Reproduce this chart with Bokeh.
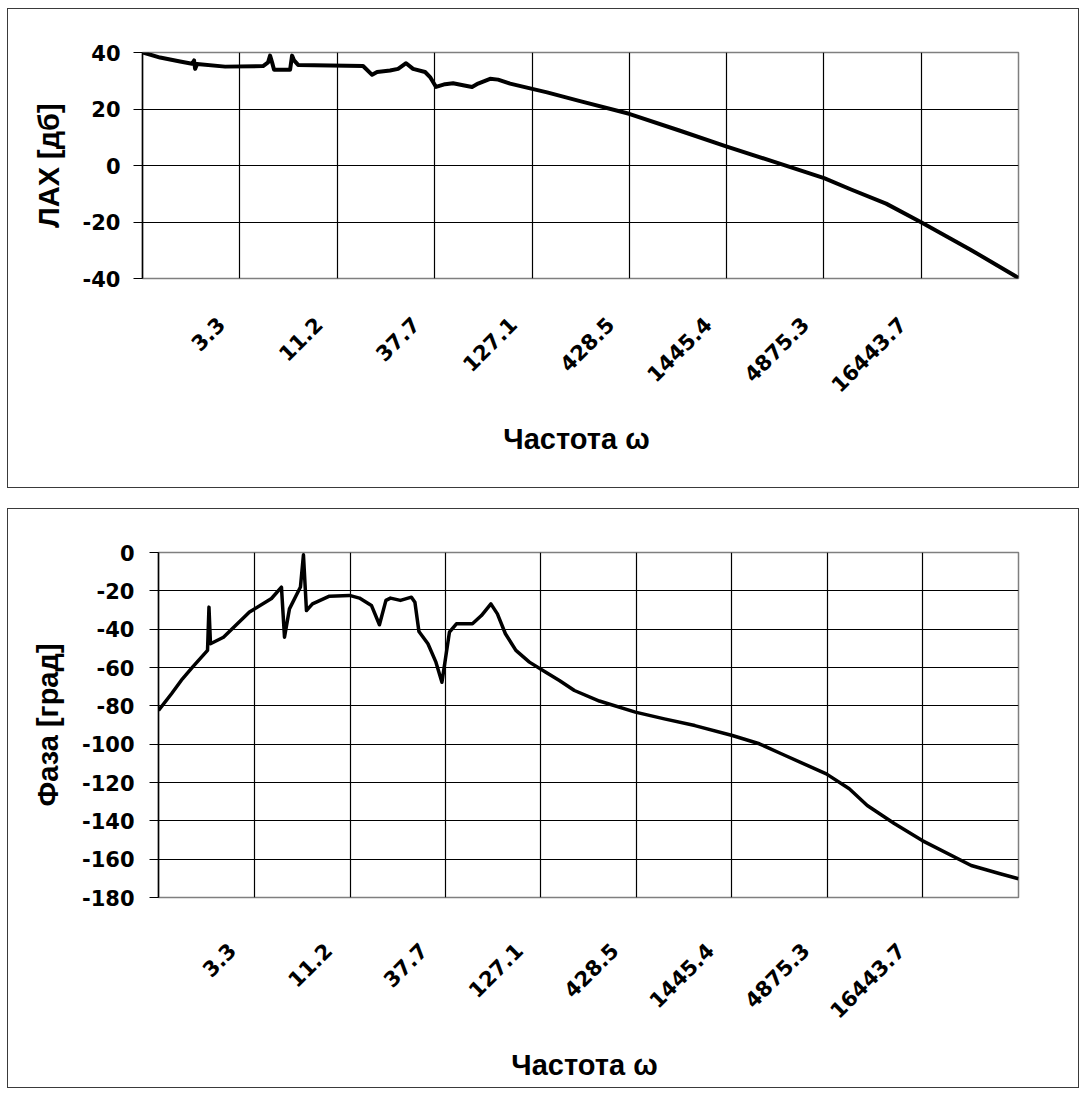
import math

from bokeh.embed import file_html
from bokeh.models import (FixedTicker, LogScale, NumeralTickFormatter, Range1d)
from bokeh.plotting import figure
from bokeh.resources import INLINE

# Frequency axis labels (rad/s)
freq_ticks = [3.3, 11.2, 37.7, 127.1, 428.5, 1445.4, 4875.3, 16443.7]

# Magnitude response (ЛАХ)
omega_lax = [0.985, 1.218, 1.564, 1.816, 1.863, 1.887, 1.934, 2.744, 4.412, 4.697,
             4.815, 4.937, 5.061, 6.183, 6.339, 6.500, 6.833, 10.19, 15.39, 17.23,
             18.34, 21.57, 23.84, 26.35, 28.75, 33.41, 35.55, 38.33, 42.88, 47.41,
             53.70, 60.09, 64.77, 75.26, 83.18, 96.63, 124.1, 153.4, 231.7, 427.5,
             808.3, 1437.0, 2650.0, 4890.0, 6850.0, 10610.0, 16430.0, 30300.0, 55450.0]
lax_db = [40.0, 38.2, 36.8, 36.0, 37.2, 34.2, 35.9, 35.0, 35.2, 36.5,
          38.9, 36.5, 33.9, 33.9, 38.9, 37.2, 35.6, 35.4, 35.2, 32.1,
          33.1, 33.6, 34.2, 36.2, 34.2, 33.1, 31.3, 27.8, 28.8, 29.1,
          28.4, 27.8, 29.0, 30.7, 30.4, 29.0, 27.3, 25.9, 22.8, 18.3,
          12.3, 6.8, 1.2, -4.5, -8.5, -13.5, -20.1, -29.7, -39.8]
lax_ticks = [-40, -20, 0, 20, 40]

# Phase response
omega_phase = [0.978, 1.154, 1.327, 1.508, 1.825, 1.859, 1.895, 2.236, 3.113, 4.120,
               4.677, 4.861, 5.178, 5.957, 6.188, 6.43, 6.94, 8.616, 11.11, 12.62,
               14.70, 16.28, 17.68, 18.73, 21.27, 24.46, 25.57, 26.91, 30.18, 33.41,
               36.06, 39.67, 43.37, 53.17, 59.61, 67.26, 73.06, 80.90, 92.45, 109.8,
               134.6, 160.8, 194.7, 267.5, 422.9, 611.6, 902.0, 1453.0, 2049.0, 2710.0,
               4806.0, 6438.0, 8095.0, 11415.0, 16300.0, 30400.0, 43420.0, 55450.0]
phase_deg = [-82.4, -73.7, -65.9, -59.8, -51.1, -28.5, -47.6, -44.2, -31.1, -24.0,
             -18.1, -44.2, -29.4, -18.0, -1.2, -30.3, -26.8, -22.8, -22.4, -23.8,
             -27.6, -37.7, -25.0, -23.8, -25.0, -23.3, -25.9, -41.2, -47.6, -57.2,
             -67.7, -41.6, -37.2, -37.2, -32.9, -26.8, -32.0, -42.4, -51.1, -57.2,
             -62.4, -66.8, -72.0, -77.5, -83.3, -86.8, -90.3, -95.5, -99.8, -105.0,
             -115.5, -123.3, -132.0, -141.4, -150.3, -163.3, -167.5, -170.2]
phase_ticks = [-180, -160, -140, -120, -100, -80, -60, -40, -20, 0]

TITLE_FONT = "Liberation Sans"
TICK_FONT = "DejaVu Sans"

# One label step on the frequency axis; the frame spans one step beyond
# the first and last labels.
step = (freq_ticks[-1] / freq_ticks[0]) ** (1.0 / (len(freq_ticks) - 1))
x_lo = freq_ticks[0] / step
x_hi = freq_ticks[-1] * step


def make_panel(xs, ys, y_lo, y_hi, y_ticks, y_title, width, height,
               left, right, top, bottom, line_w, top_margin, lbl_shift,
               lbl_standoff, title_standoff, y_lbl_standoff):
    p = figure(
        x_axis_type="log",
        x_range=Range1d(x_lo, x_hi),
        y_range=Range1d(y_lo, y_hi),
        width=width,
        height=height,
        min_border_left=left,
        min_border_right=right,
        min_border_top=top,
        min_border_bottom=bottom,
        output_backend="svg",
        toolbar_location=None,
        background_fill_color="white",
        border_fill_color="white",
    )
    p.margin = (top_margin, 0, 0, 7)
    p.styles = {"border": "1.5px solid #3a3a3a"}

    p.outline_line_color = "#7f7f7f"
    p.outline_line_width = 1.5

    p.line(xs, ys, line_color="black", line_width=line_w, line_join="round")

    # The slanted frequency labels sit a little to the left of their grid
    # lines; the axis reads a copy of the range nudged by lbl_shift pixels.
    frame_w = width - left - right
    nudge = 10 ** (lbl_shift * math.log10(x_hi / x_lo) / frame_w)
    p.extra_x_ranges = {"labels": Range1d(x_lo * nudge, x_hi * nudge)}
    p.extra_x_scales = {"labels": LogScale()}

    xa = p.xaxis[0]
    xa.x_range_name = "labels"
    xa.ticker = FixedTicker(ticks=freq_ticks, minor_ticks=[])
    xa.formatter = NumeralTickFormatter(format="0.0")
    xa.major_label_orientation = math.pi / 4
    xa.major_label_text_font = TICK_FONT
    xa.major_label_text_font_style = "bold"
    xa.major_label_text_font_size = "21px"
    xa.major_label_text_color = "black"
    xa.major_label_standoff = lbl_standoff
    xa.major_tick_out = 0
    xa.major_tick_in = 0
    xa.minor_tick_out = 0
    xa.minor_tick_in = 0
    xa.axis_line_color = None
    xa.axis_label = "Частота  ω"
    xa.axis_label_text_font = TITLE_FONT
    xa.axis_label_text_font_style = "bold"
    xa.axis_label_text_font_size = "29px"
    xa.axis_label_text_color = "black"
    xa.axis_label_standoff = title_standoff

    # value axis
    ya = p.yaxis[0]
    ya.ticker = FixedTicker(ticks=y_ticks, minor_ticks=[])
    ya.formatter = NumeralTickFormatter(format="0")
    ya.major_label_text_font = TICK_FONT
    ya.major_label_text_font_style = "bold"
    ya.major_label_text_font_size = "21px"
    ya.major_label_text_color = "black"
    ya.major_label_standoff = y_lbl_standoff
    ya.major_tick_out = 9
    ya.major_tick_in = 0
    ya.major_tick_line_color = "black"
    ya.minor_tick_out = 0
    ya.minor_tick_in = 0
    ya.axis_line_color = "black"
    ya.axis_line_width = 1.5
    ya.axis_label = y_title
    ya.axis_label_text_font = TITLE_FONT
    ya.axis_label_text_font_style = "bold"
    ya.axis_label_text_font_size = "29px"
    ya.axis_label_text_color = "black"
    ya.axis_label_standoff = 15

    for g in (p.xgrid[0], p.ygrid[0]):
        g.grid_line_color = "black"
        g.grid_line_width = 1.2
    p.xgrid[0].x_range_name = "default"
    p.xgrid[0].ticker = FixedTicker(ticks=freq_ticks, minor_ticks=[])
    p.ygrid[0].ticker = ya.ticker
    return p


p_lax = make_panel(omega_lax, lax_db, -40, 40, lax_ticks, "ЛАХ [дб]",
                   width=1072, height=480, left=134, right=62, top=43, bottom=211,
                   line_w=4, top_margin=8, lbl_shift=19, lbl_standoff=42,
                   title_standoff=21, y_lbl_standoff=13)
p_phase = make_panel(omega_phase, phase_deg, -180, 0, phase_ticks, "Фаза [град]",
                     width=1072, height=580, left=150, right=62, top=43, bottom=192,
                     line_w=3.5, top_margin=20, lbl_shift=22, lbl_standoff=49,
                     title_standoff=21, y_lbl_standoff=15)

open("out.html", "w").write(file_html([p_lax, p_phase], INLINE))
